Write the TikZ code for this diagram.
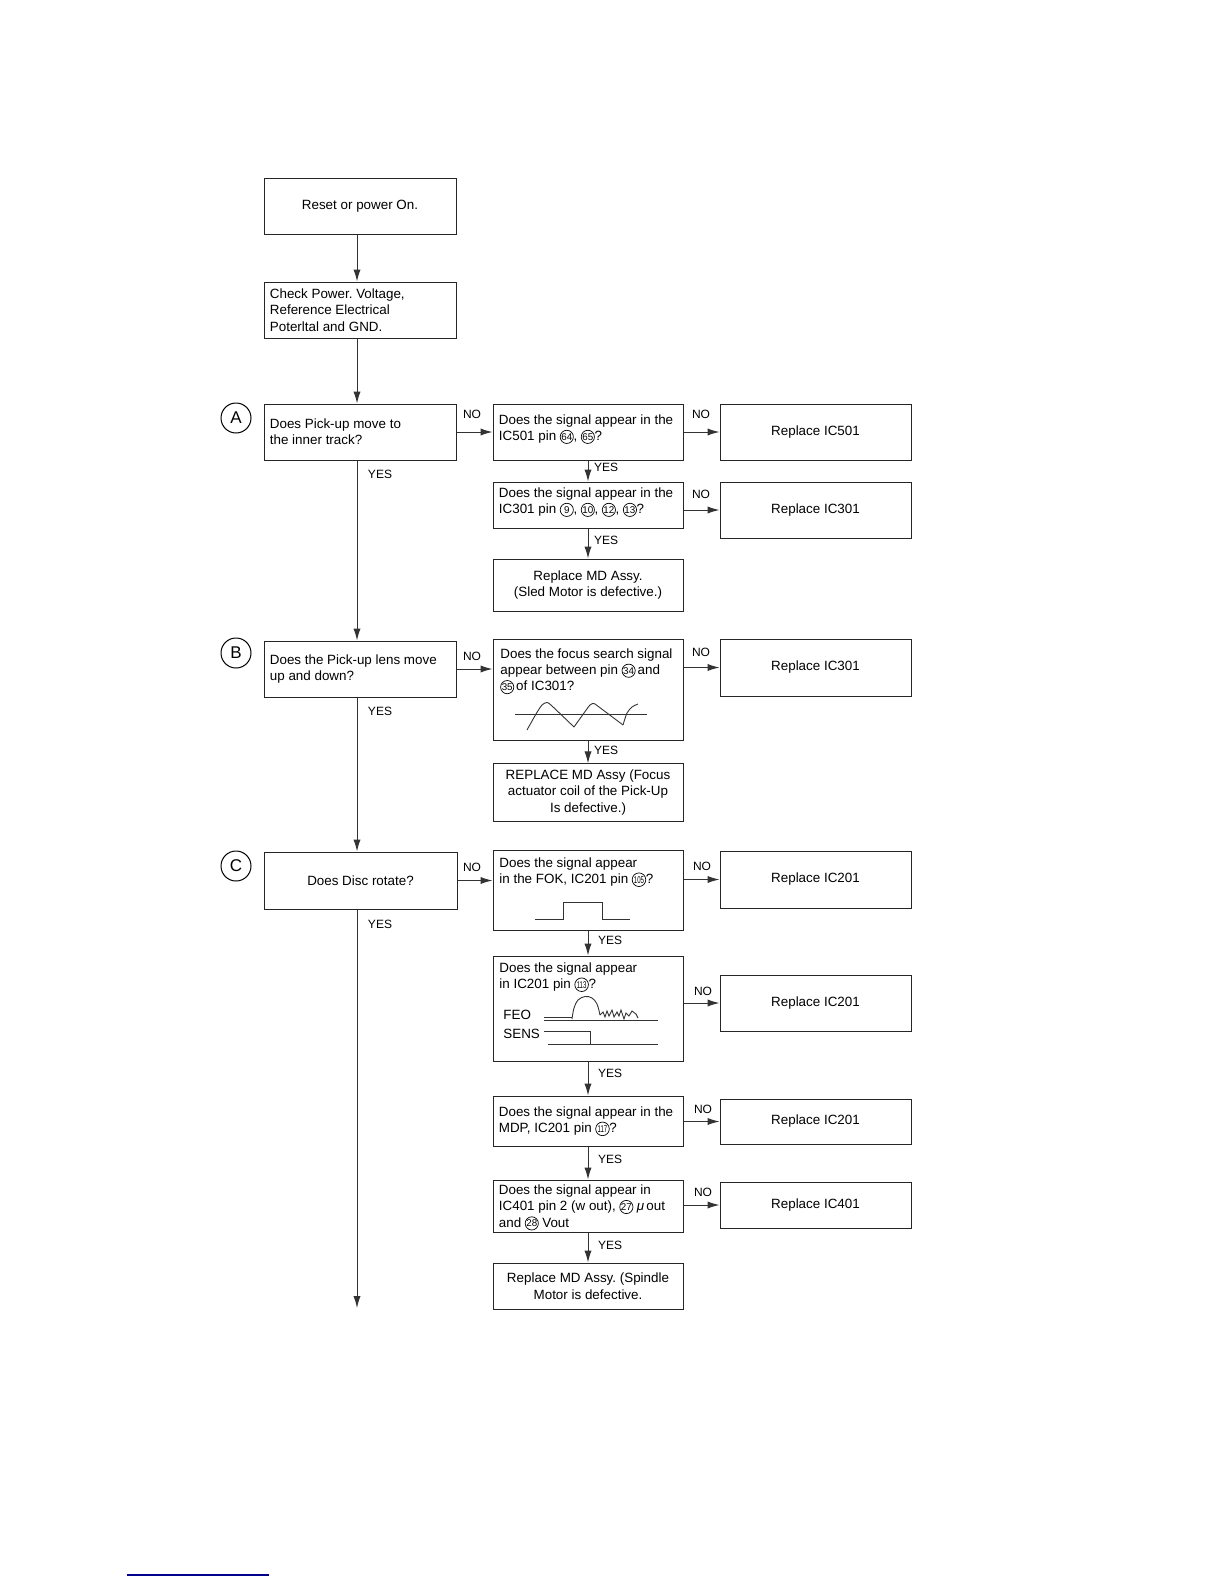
\documentclass[tikz,border=0pt]{standalone}
\usepackage{fontspec}
\usepackage{pict2e}
\setmainfont{Liberation Sans}
\usetikzlibrary{arrows.meta,calc}
\frenchspacing
\newcommand\fsz{\fontsize{6.7}{8.2}\selectfont}
\newcommand\pin[1]{{\setlength{\unitlength}{1pt}\begin{picture}(6.8,0)\linethickness{0.35pt}\put(3.4,1.9){\circle{6.6}}\put(3.4,1.9){\makebox(0,0){\fontsize{4.9}{4.9}\selectfont #1}}\end{picture}}}
\newcommand\pinn[1]{{\setlength{\unitlength}{1pt}\begin{picture}(7,0)\linethickness{0.35pt}\put(3.5,1.9){\circle{6.8}}\put(3.5,1.9){\makebox(0,0){\fontsize{4.9}{4.9}\selectfont\scalebox{0.62}[1]{#1}}}\end{picture}}}
\newcommand\flowbox[6]{\node[boxst,minimum width={(#4-#2)*0.5pt},minimum height={(#5-#3)*0.5pt}] (#1) at ({(#2+#4)/2},{(#3+#5)/2}) {#6};}
\begin{document}
\begin{tikzpicture}[x=0.5pt,y=-0.5pt,
  boxst/.style={draw=black!85,line width=0.5pt,inner sep=3pt,font=\fsz,align=center},
  txt/.style={inner sep=0pt,font=\fsz,align=left},
  lbl/.style={inner sep=0pt,font=\fontsize{6}{6}\selectfont},
  conn/.style={draw=black!80,line width=0.5pt},
  arr/.style={conn,-{Latex[length=6pt,width=3.6pt]}},
  wave/.style={draw=black!80,line width=0.45pt},
  letter/.style={circle,draw,line width=0.5pt,minimum size=15pt,inner sep=0pt,font=\fontsize{8.5}{8.5}\selectfont}]
\useasboundingbox (0,0) rectangle (1224,1584);
\coordinate (mainx) at (357,0);
\coordinate (endpt) at (357,1308);

% ---- top ----
\flowbox{reset}{264}{178}{456}{234}{Reset or power On.}
\flowbox{check}{264}{282}{456}{338}{}
\node[txt,anchor=west] (checkT) at ([xshift=3pt]check.west) {Check Power. Voltage,\\Reference Electrical\\Poterltal and GND.};

% ---- A ----
\node[letter] (cA) at (236,418) {A};
\flowbox{qa}{264}{404}{456}{460}{}
\node[txt,anchor=west] (qaT) at ([xshift=3pt]qa.west) {Does Pick-up move to\\the inner track?};
\flowbox{qa1}{493}{404}{683}{460}{}
\node[txt,anchor=west] (qa1T) at ([xshift=3pt,yshift=1.5pt]qa1.west) {Does the signal appear in the\\IC501 pin \pin{64}, \pin{65}?};
\flowbox{ra1}{720}{404}{911}{460}{Replace IC501}
\flowbox{qa2}{493}{482}{683}{528}{}
\node[txt,anchor=west] (qa2T) at ([xshift=3pt,yshift=1.5pt]qa2.west) {Does the signal appear in the\\IC301 pin \pin{9}, \pin{10}, \pin{12}, \pin{13}?};
\flowbox{ra2}{720}{482}{911}{538}{Replace IC301}
\flowbox{sa}{493}{559}{683}{611}{Replace MD Assy.\\(Sled Motor is defective.)}

% ---- B ----
\node[letter] (cB) at (236,653) {B};
\flowbox{qb}{264}{641}{456}{697}{}
\node[txt,anchor=west] (qbT) at ([xshift=3pt]qb.west) {Does the Pick-up lens move\\up and down?};
\flowbox{qb1}{493}{639}{683}{740}{}
\node[txt,anchor=north west] (qb1T) at (500,648) {Does the focus search signal\\appear between pin \pin{34}\,and\\\pin{35}\,of IC301?};
\flowbox{rb}{720}{639}{911}{696}{Replace IC301}
\flowbox{sb}{493}{767}{683}{818}{REPLACE MD Assy (Focus\\actuator coil of the Pick-Up\\Is defective.)}

% ---- C ----
\node[letter] (cC) at (236,866) {C};
\flowbox{qc}{264}{852}{457}{909}{Does Disc rotate?}
\flowbox{qc1}{493}{850}{683}{930}{}
\node[txt,anchor=north west] (qc1T) at (499,857) {Does the signal appear\\in the FOK, IC201 pin \pinn{105}?};
\flowbox{rc1}{720}{851}{911}{908}{Replace IC201}
\flowbox{qc2}{493}{956}{683}{1061}{}
\node[txt,anchor=north west] (qc2T) at (499,962) {Does the signal appear\\in IC201 pin \pinn{113}?};
\node[txt,anchor=base west] (feo) at (503,1019) {FEO};
\node[txt,anchor=base west] (sens) at (503,1038) {SENS};
\flowbox{rc2}{720}{975}{911}{1031}{Replace IC201}
\flowbox{qc3}{493}{1096}{683}{1146}{}
\node[txt,anchor=west] (qc3T) at ([xshift=3pt]qc3.west) {Does the signal appear in the\\MDP, IC201 pin \pinn{117}?};
\flowbox{rc3}{720}{1099}{911}{1144}{Replace IC201}
\flowbox{qc4}{493}{1180}{683}{1232}{}
\node[txt,anchor=west] (qc4T) at ([xshift=3pt]qc4.west) {Does the signal appear in\\IC401 pin 2 (w out), \pin{27} \textit{μ}\,out\\and \pin{28} Vout};
\flowbox{rc4}{720}{1182}{911}{1228}{Replace IC401}
\flowbox{sc}{493}{1263}{683}{1309}{Replace MD Assy. (Spindle\\Motor is defective.}

% ---- main column ----
\draw[arr] (reset.south -| mainx) -- (check.north -| mainx);
\draw[arr] (check.south -| mainx) -- (qa.north -| mainx);
\draw[arr] (qa.south -| mainx) -- (qb.north -| mainx);
\draw[arr] (qb.south -| mainx) -- (qc.north -| mainx);
\draw[arr] (qc.south -| mainx) -- (endpt);

% ---- horizontal NO ----
\draw[arr] (qa.east) -- (qa.east -| qa1.west);
\draw[arr] (qa1.east) -- (qa1.east -| ra1.west);
\draw[arr] (qa2.east |- ra2.west) -- (ra2.west);
\draw[arr] (qb.east) -- (qb.east -| qb1.west);
\draw[arr] (qb1.east |- rb.west) -- (rb.west);
\draw[arr] (qc.east) -- (qc.east -| qc1.west);
\draw[arr] (qc1.east |- rc1.west) -- (rc1.west);
\draw[arr] (qc2.east |- rc2.west) -- (rc2.west);
\draw[arr] (qc3.east |- rc3.west) -- (rc3.west);
\draw[arr] (qc4.east |- rc4.west) -- (rc4.west);

% ---- vertical YES ----
\draw[arr] (qa1.south) -- (qa2.north);
\draw[arr] (qa2.south) -- (sa.north);
\draw[arr] (qb1.south) -- (sb.north);
\draw[arr] (qc1.south) -- (qc2.north);
\draw[arr] (qc2.south) -- (qc3.north);
\draw[arr] (qc3.south) -- (qc4.north);
\draw[arr] (qc4.south) -- (sc.north);

% ---- labels ----
\node[lbl] (nA1) at (472,414) {NO};
\node[lbl] (nA2) at (701,414) {NO};
\node[lbl] (nA3) at (701,494) {NO};
\node[lbl] (yA0) at (380,474) {YES};
\node[lbl] (yA1) at (606,467) {YES};
\node[lbl] (yA2) at (606,540) {YES};
\node[lbl] (nB1) at (472,656) {NO};
\node[lbl] (nB2) at (701,652) {NO};
\node[lbl] (yB0) at (380,711) {YES};
\node[lbl] (yB1) at (606,750) {YES};
\node[lbl] (nC1) at (472,867) {NO};
\node[lbl] (nC2) at (702,866) {NO};
\node[lbl] (yC0) at (380,924) {YES};
\node[lbl] (yC1) at (610,940) {YES};
\node[lbl] (nC3) at (703,991) {NO};
\node[lbl] (yC2) at (610,1073) {YES};
\node[lbl] (nC4) at (703,1109) {NO};
\node[lbl] (yC3) at (610,1159) {YES};
\node[lbl] (nC5) at (703,1192) {NO};
\node[lbl] (yC4) at (610,1245) {YES};

% ---- waveforms ----
\draw[wave] (515,714) -- (647,714);
\draw[wave] plot[smooth,tension=0.45] coordinates {(527,730) (536,714) (542,705) (547,702.5) (552,706) (574,727)};
\draw[wave] plot[smooth,tension=0.45] coordinates {(574,727) (584,713) (590,705) (594,703.5) (599,707) (623,725)};
\draw[wave] plot[smooth,tension=0.45] coordinates {(623,725) (627,713) (632,707) (638,704)};
\draw[wave] (535,919) -- (563,919) -- (563,902) -- (602,902) -- (602,919) -- (630,919);
\draw[wave] (544,1017.5) -- (572,1017.5);
\draw[wave] (544,1020) -- (658,1020);
\draw[wave] plot[smooth,tension=0.6] coordinates {(572,1019) (574,1008) (578,1000) (585,996.5) (592,998) (597,1004) (600,1015)};
\draw[wave] (600,1015) -- (603,1012) -- (605,1017) -- (607,1011) -- (609,1016) -- (612,1010) -- (614,1017) -- (617,1012) -- (619,1016) -- (621,1010) -- (624,1019) -- (626,1013) -- (629,1016) -- (632,1011) -- (636,1014) -- (638,1018);
\draw[wave] (544,1031) -- (590,1031) -- (590,1044);
\draw[wave] (548,1044) -- (658,1044);

% ---- footer rule ----
\draw[blue!55!black,line width=1pt] (127,1575) -- (269,1575);
\end{tikzpicture}
\end{document}
